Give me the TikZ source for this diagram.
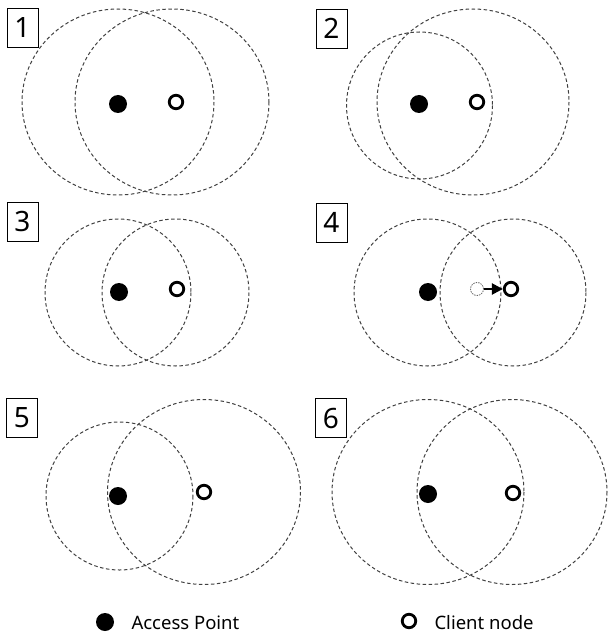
\documentclass[tikz,border=0pt]{standalone}
\usepackage{fontspec}
\setmainfont{Noto Sans}
\usetikzlibrary{arrows.meta,positioning}

\begin{document}
\begin{tikzpicture}[x=1pt,y=-1pt,
    cover/.style={draw=black!75,dash pattern=on 3.5pt off 2.5pt,line width=1pt},
    ap/.style={circle,fill=black,inner sep=0pt,minimum size=18pt},
    client/.style={circle,draw=black,line width=2.8pt,inner sep=0pt,minimum size=13.5pt},
    ghost/.style={circle,draw=black!60,dash pattern=on 1.5pt off 1pt,line width=0.8pt,inner sep=0pt,minimum size=13pt},
    numbox/.style={draw,line width=0.8pt,minimum width=31pt,minimum height=39pt,inner sep=0pt,font=\fontsize{28}{30}\selectfont}]
        \useasboundingbox (0,0) rectangle (609,636);
        % 面板1
        \node[numbox] (n1) at (22.5,28) {1};
        \draw[cover] (118,102) ellipse [x radius=96, y radius=93];
        \draw[cover] (172,102) ellipse [x radius=97, y radius=93];
        \node[ap] (ap1) at (118,104) {};
        \node[client] (c1) at (176,102) {};
        % 面板2
        \node[numbox] (n2) at (331.5,28.5) {2};
        \draw[cover] (419.5,105.5) ellipse [x radius=73, y radius=73.5];
        \draw[cover] (473,102) ellipse [x radius=96, y radius=93];
        \node[ap] (ap2) at (419,104) {};
        \node[client] (c2) at (477,102) {};
        % 面板3
        \node[numbox] (n3) at (22.5,221.5) {3};
        \draw[cover] (118,292.5) ellipse [x radius=73, y radius=73.5];
        \draw[cover] (175.5,292.5) ellipse [x radius=73.5, y radius=73.5];
        \node[ap] (ap3) at (119,292) {};
        \node[client] (c3) at (177,289) {};
        % 面板4
        \node[numbox] (n4) at (331.5,222.5) {4};
        \draw[cover] (427.5,292.5) ellipse [x radius=73.5, y radius=73.5];
        \draw[cover] (513,292.5) ellipse [x radius=73, y radius=73.5];
        \node[ap] (ap4) at (428,292) {};
        \node[ghost] (g4) at (477,289) {};
        \node[client] (c4) at (511,289) {};
        \draw[line width=2.4pt,-{Triangle[length=11pt,width=11pt]}] (g4) -- (c4);
        % 面板5
        \node[numbox] (n5) at (22,417.5) {5};
        \draw[cover] (119.5,496) ellipse [x radius=73.5, y radius=74];
        \draw[cover] (204,492) ellipse [x radius=96.5, y radius=92.5];
        \node[ap] (ap5) at (118,496) {};
        \node[client] (c5) at (204,492) {};
        % 面板6
        \node[numbox] (n6) at (331,418) {6};
        \draw[cover] (428,492) ellipse [x radius=96, y radius=92.5];
        \draw[cover] (512,492) ellipse [x radius=95, y radius=92.5];
        \node[ap] (ap6) at (428,494) {};
        \node[client] (c6) at (513,493) {};
        % 图例
        \node[ap] (lap) at (105,622) {};
        \node[anchor=west,font=\fontsize{18.5}{22}\selectfont] (tap) at (128,623) {Access Point};
        \node[client] (lcl) at (409,621) {};
        \node[anchor=west,font=\fontsize{18.5}{22}\selectfont] (tcl) at (431,623) {Client node};
\end{tikzpicture}
\end{document}
